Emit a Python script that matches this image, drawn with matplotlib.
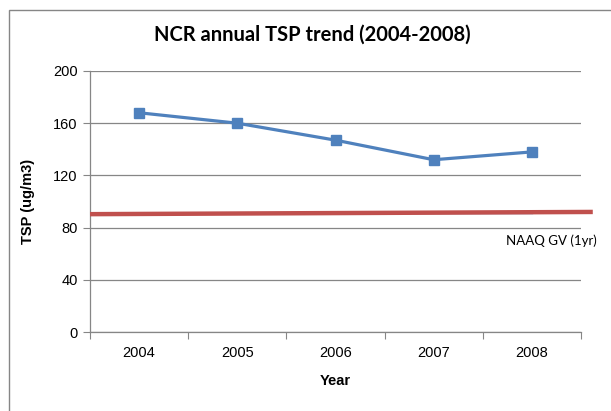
import matplotlib
matplotlib.use("Agg")
import matplotlib.pyplot as plt
from matplotlib.patches import Rectangle

years = ["2004", "2005", "2006", "2007", "2008"]
tsp = [168, 160, 147, 132, 138]
naaq_x = [-0.5, 4.62]
naaq_y = [90.3, 92.0]
naaq_blue = [91.0, 91.0]
yticks = [0, 40, 80, 120, 160, 200]

fig = plt.figure(figsize=(6.11, 4.11), dpi=100)
ax = fig.add_axes([90/611, 1-332/411, (581-90)/611, (332-71)/411])

xs = list(range(len(years)))
ax.plot([0, 4], naaq_blue, color="#4F81BD", lw=1.0, zorder=2)
ax.plot(naaq_x, naaq_y, color="#C0504D", lw=3.2, zorder=3, clip_on=False, solid_capstyle="butt")
ax.plot(xs, tsp, color="#4F81BD", lw=2.3, marker="s", ms=7, zorder=4)

ax.set_xlim(-0.5, 4.5)
ax.set_ylim(0, 200)
ax.set_yticks(yticks)
ax.set_yticklabels([str(v) for v in yticks], fontsize=10.5, family="Liberation Sans")
ax.set_xticks([i - 0.5 for i in range(len(years) + 1)])
ax.set_xticklabels([])
ax.set_xticks(xs, minor=True)
ax.set_xticklabels(years, minor=True, fontsize=10.5, family="Liberation Sans")
ax.tick_params(axis="x", which="major", length=5, color="#868686", direction="out")
ax.tick_params(axis="x", which="minor", length=0, pad=10)
ax.tick_params(axis="y", length=5, color="#868686", direction="out", pad=4)
ax.grid(axis="y", color="#868686", lw=0.9)
ax.set_axisbelow(True)
for s in ["top", "right"]:
    ax.spines[s].set_visible(False)
for s in ["left", "bottom"]:
    ax.spines[s].set_color("#868686")
    ax.spines[s].set_linewidth(0.9)

ax.set_xlabel("Year", fontsize=10.5, fontweight="bold", family="Liberation Sans", labelpad=10)
ax.set_ylabel("TSP (ug/m3)", fontsize=10.5, fontweight="bold", family="Liberation Sans", labelpad=13)

fig.text(312/611, 1-35/411, "NCR annual TSP trend (2004-2008)", ha="center", va="center",
         fontsize=14.5, fontweight="bold", family="Lato")
fig.text(506/611, 1-241/411, "NAAQ GV (1yr)", ha="left", va="center", fontsize=9.5, family="Lato")

fig.patches.append(Rectangle((9/611, -0.1), 1.2, 1 - 10/411 + 0.1, transform=fig.transFigure,
                             fill=False, edgecolor="#868686", lw=1.0))

fig.savefig("out.png", dpi=100)
